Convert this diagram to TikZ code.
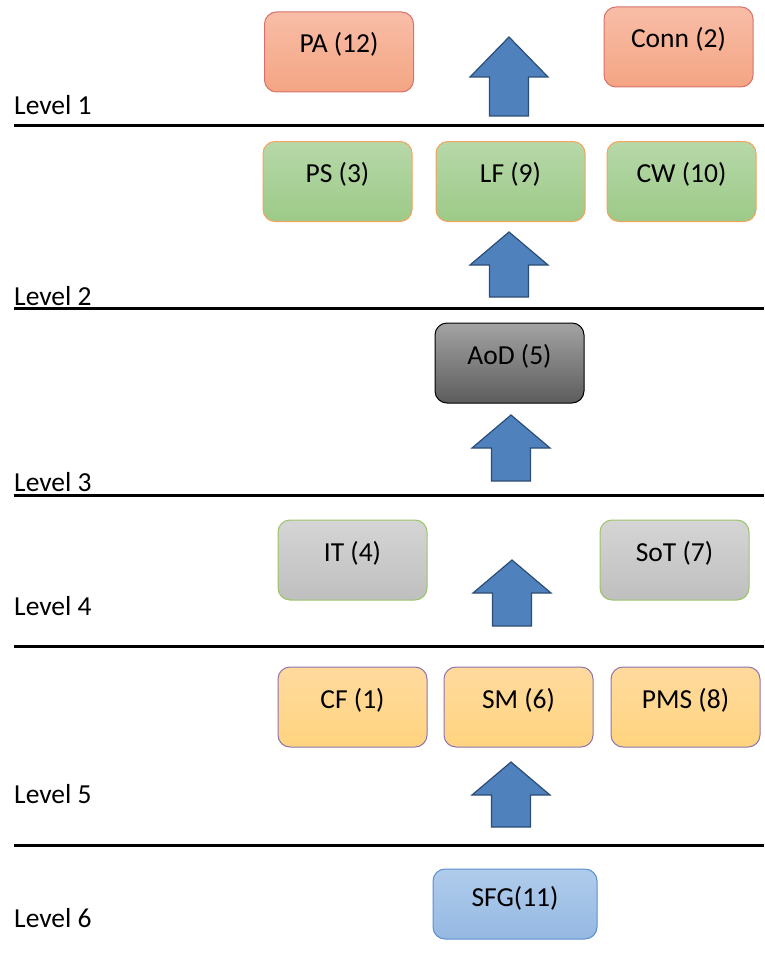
\documentclass[tikz,border=0pt]{standalone}
\usepackage{fontspec}
\setmainfont{Carlito}
\usepackage{xcolor}
\usetikzlibrary{positioning}

\definecolor{redtop}{HTML}{F8BDA7}
\definecolor{redbot}{HTML}{F4A583}
\definecolor{redline}{HTML}{D8716B}
\definecolor{greentop}{HTML}{B7D8A9}
\definecolor{greenbot}{HTML}{9DCA88}
\definecolor{greenline}{HTML}{F5A25B}
\definecolor{darktop}{HTML}{A3A3A3}
\definecolor{darkbot}{HTML}{5C5C5C}
\definecolor{greytop}{HTML}{D5D5D5}
\definecolor{greybot}{HTML}{BFBFBF}
\definecolor{greyline}{HTML}{9BC46A}
\definecolor{ambertop}{HTML}{FFDA9E}
\definecolor{amberbot}{HTML}{FFD47F}
\definecolor{amberline}{HTML}{8E74AE}
\definecolor{bluetop}{HTML}{B0CCEC}
\definecolor{bluebot}{HTML}{95B8E2}
\definecolor{blueline}{HTML}{5B8FD0}
\definecolor{arrowfill}{HTML}{4F81BD}
\definecolor{arrowline}{HTML}{2C4D75}

\tikzset{
  levelbox/.style={rounded corners=12pt,minimum width=149pt,inner xsep=0pt,inner ysep=0pt,
    text height=41pt,text depth=39pt,line width=1pt},
  redbox/.style={levelbox,draw=redline,top color=redtop,bottom color=redbot},
  greenbox/.style={levelbox,draw=greenline,top color=greentop,bottom color=greenbot},
  darkbox/.style={levelbox,draw=black,top color=darktop,bottom color=darkbot},
  greybox/.style={levelbox,draw=greyline,top color=greytop,bottom color=greybot},
  amberbox/.style={levelbox,draw=amberline,top color=ambertop,bottom color=amberbot},
  bluebox/.style={levelbox,draw=blueline,top color=bluetop,bottom color=bluebot},
  levellabel/.style={anchor=base west,inner sep=0pt},
  levelrule/.style={line width=3pt},
  blockarrow/.style={draw=arrowline,fill=arrowfill,line width=1.2pt,line join=miter}
}

\begin{document}
\begin{tikzpicture}[x=1pt,y=-1pt,font=\fontsize{27.5}{31}\selectfont]
\useasboundingbox (0,0) rectangle (764,955);
% level rules
\foreach \y in {126,308,495,646,845}
  \draw[levelrule] (14,\y) -- (764,\y);
% level labels
\node[levellabel] (l1) at (14,115) {Level 1};
\node[levellabel] (l2) at (14,305) {Level 2};
\node[levellabel] (l3) at (14,491) {Level 3};
\node[levellabel] (l4) at (14,615) {Level 4};
\node[levellabel] (l5) at (14,803) {Level 5};
\node[levellabel] (l6) at (14,927) {Level 6};
% level 1
\node[redbox] (pa) at (339,52) {PA (12)};
\node[redbox] (conn) at (678.5,47) {Conn (2)};
% level 2
\node[greenbox] (ps) at (337.5,181.5) {PS (3)};
\node[greenbox] (lf) at (510.5,181.5) {LF (9)};
\node[greenbox] (cw) at (681.5,181.5) {CW (10)};
% level 3
\node[darkbox] (aod) at (509.5,363) {AoD (5)};
% level 4
\node[greybox] (it) at (352.5,560) {IT (4)};
\node[greybox] (sot) at (674.5,560) {SoT (7)};
% level 5
\node[amberbox] (cf) at (352.5,707) {CF (1)};
\node[amberbox] (sm) at (518.5,707) {SM (6)};
\node[amberbox] (pms) at (685.5,707) {PMS (8)};
% level 6
\node[bluebox,minimum width=164pt,text height=37pt,text depth=33pt] (sfg) at (515,904) {SFG(11)};
% block arrows: x / tip / head base / bottom
\foreach \x/\t/\b/\e in {509/37/77/116,509/232/265/297,511/415/448/481,512/560/593/626,511/762/795/827}
  \draw[blockarrow] ({\x-19.5},\e) -- ({\x-19.5},\b) -- ({\x-39},\b) -- (\x,\t)
    -- ({\x+39},\b) -- ({\x+19.5},\b) -- ({\x+19.5},\e) -- cycle;
\end{tikzpicture}
\end{document}
